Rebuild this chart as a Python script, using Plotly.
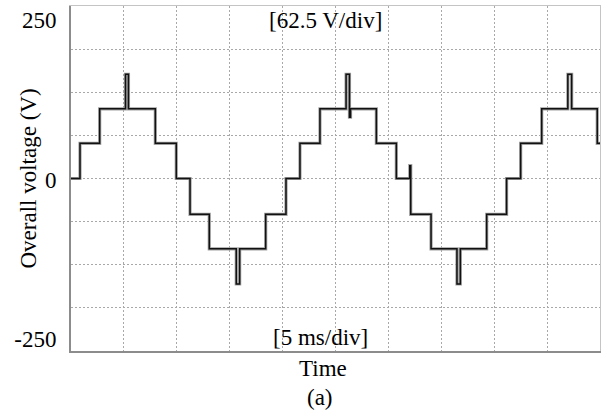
import plotly.graph_objects as go

# Oscilloscope trace (time in ms, voltage in V)
time_ms = [0.0, 0.85, 2.71, 5.15, 5.43, 7.97, 9.95, 11.25, 13.07, 15.62, 15.94,
           18.40, 20.32, 21.64, 23.53, 26.00, 26.32, 26.42, 28.86, 30.75, 32.02,
           32.11, 34.03, 36.48, 36.80, 39.29, 41.17, 42.50, 44.49, 46.96, 47.32,
           49.74, 50.0]
voltage_v = [0, 55, 109, 163, 109, 55, 0, -56, -110, -165, -110,
             -56, 0, 55, 109, 163, 96, 109, 55, 0, 20,
             -56, -110, -165, -110, -56, 0, 55, 109, 163, 109,
             55, 55]

y_tick_vals = [-250, 0, 250]
y_tick_text = ["-250", "0", "250"]

FONT = "Liberation Serif, Times New Roman, serif"
FS = 23

fig = go.Figure()
fig.add_trace(go.Scatter(x=time_ms, y=voltage_v, mode="lines",
                         line=dict(shape="hv", color="#a0a0a0", width=3.2),
                         hoverinfo="skip", showlegend=False))
fig.add_trace(go.Scatter(x=time_ms, y=voltage_v, mode="lines", xaxis="x2", yaxis="y2",
                         line=dict(shape="hv", color="#111111", width=1.5),
                         showlegend=False))

grid = dict(showgrid=True, gridcolor="#a8a8a8", gridwidth=1, griddash="2px,2px")

fig.update_layout(
    width=602, height=410,
    margin=dict(l=71, r=2, t=6, b=59),
    paper_bgcolor="white", plot_bgcolor="white",
    font=dict(family=FONT, size=FS, color="black"),
    xaxis=dict(range=[0, 50], tick0=0, dtick=5, showticklabels=False, ticks="",
               zeroline=False, showline=True, linecolor="#8c8c8c", linewidth=2, **grid),
    xaxis2=dict(range=[0, 50], overlaying="x", side="top", anchor="y2",
                showticklabels=False, ticks="", showgrid=False, zeroline=False,
                showline=True, linecolor="#c4c4c4", linewidth=1),
    yaxis=dict(range=[-270, 270], tickvals=y_tick_vals, ticktext=y_tick_text,
               ticks="", showgrid=False, zeroline=False, ticklabelstandoff=8,
               ticklabelshift=1,
               showline=True, linecolor="#8c8c8c", linewidth=2,
               tickfont=dict(family=FONT, size=FS, color="black")),
    yaxis2=dict(range=[-270, 270], overlaying="y", side="right", anchor="x2",
                tick0=0, dtick=67.5, showticklabels=False, ticks="", zeroline=False,
                showline=True, linecolor="#c4c4c4", linewidth=1, **grid),
)

def ann(text, x, y, **kw):
    fig.add_annotation(text=text, x=x, y=y, xref="paper", yref="paper",
                       xanchor="center", yanchor="middle", showarrow=False,
                       font=dict(family=FONT, size=FS, color="black"), **kw)

ann("[62.5 V/div]", 0.481, 0.957)
ann("[5 ms/div]", 0.471, 0.038)
ann("Time", 0.477, -0.052)
ann("(a)", 0.470, -0.136)
ann("Overall voltage (V)", -0.0794, 0.5, textangle=-90)

fig.write_html("out.html")
